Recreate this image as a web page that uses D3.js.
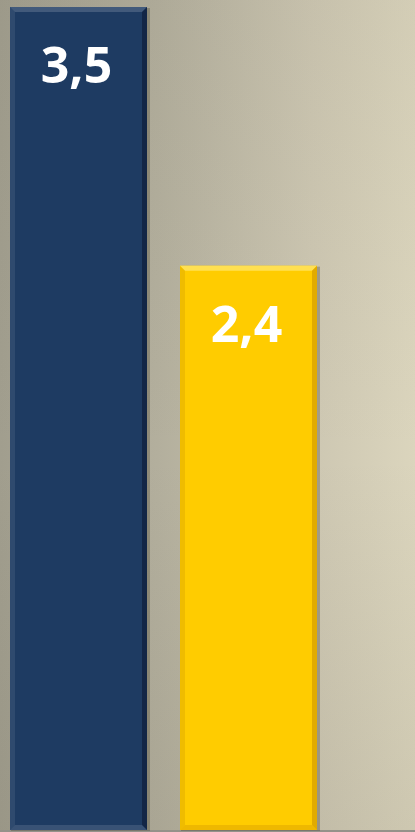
<!DOCTYPE html>
<html><head><meta charset="utf-8">
<script src="https://cdn.jsdelivr.net/npm/d3@7"></script>
<style>html,body{margin:0;padding:0;overflow:hidden;}svg{display:block;}</style>
</head><body>
<script>
const categories = ["A", "B"];
const values = [3.5, 2.4];
const labels = ["3,5", "2,4"];
const colors = ["#1e3b62", "#ffcc00"];

const W = 415, H = 832;
const svg = d3.select("body").append("svg").attr("width", W).attr("height", H);
const defs = svg.append("defs");
const lg = defs.append("linearGradient").attr("id","bgx").attr("x1",0).attr("x2",1).attr("y1",0).attr("y2",0);
[["0%","#a19e8e"],["38%","#b3af9d"],["75%","#cdc7b2"],["100%","#dbd5bd"]].forEach(s =>
  lg.append("stop").attr("offset",s[0]).attr("stop-color",s[1]));
const vg = defs.append("linearGradient").attr("id","bgy").attr("x1",0).attr("x2",0).attr("y1",0).attr("y2",1);
[["0%","rgba(90,85,70,0.06)"],["55%","rgba(90,85,70,0)"],["100%","rgba(90,85,70,0.10)"]].forEach(s =>
  vg.append("stop").attr("offset",s[0]).attr("stop-color",s[1]));
svg.append("rect").attr("width",W).attr("height",H).attr("fill","url(#bgx)");
svg.append("rect").attr("width",W).attr("height",H).attr("fill","url(#bgy)");

const x = d3.scaleBand().domain(categories).range([10, 317]).paddingInner(33/170).paddingOuter(0);
const y = d3.scaleLinear().domain([0, 3.5]).range([830, 7]);

svg.append("rect").attr("x",0).attr("y",y(0)).attr("width",W).attr("height",H-y(0)).attr("fill","#95928a");

const g = svg.append("g");
const bars = g.selectAll("g.bar").data(categories).join("g").attr("class","bar");
const bev = 5;
bars.each(function(c, i) {
  const s = d3.select(this);
  const x0 = x(c), x1 = x(c) + x.bandwidth(), y0 = y(values[i]), y1 = y(0);
  s.append("rect").attr("x", x0+1).attr("y", y0+1).attr("width", x.bandwidth()+2).attr("height", y1-y0)
    .attr("fill", "rgba(60,55,40,0.30)");
  s.append("rect").attr("x", x0).attr("y", y0).attr("width", x.bandwidth()).attr("height", y1-y0)
    .attr("fill", colors[i]);
  const poly = (pts, fill) => s.append("polygon").attr("points", pts.map(p => p.join(",")).join(" ")).attr("fill", fill);
  poly([[x0,y0],[x1,y0],[x1-bev,y0+bev],[x0+bev,y0+bev]], i===0 ? "rgba(255,255,255,0.16)" : "rgba(255,240,150,0.55)");
  poly([[x0,y0],[x0+bev,y0+bev],[x0+bev,y1-bev],[x0,y1]], i===0 ? "rgba(255,255,255,0.08)" : "rgba(190,140,0,0.25)");
  poly([[x1,y0],[x1,y1],[x1-bev,y1-bev],[x1-bev,y0+bev]], i===0 ? "rgba(0,0,20,0.35)" : "rgba(170,110,0,0.35)");
  poly([[x0,y1],[x1,y1],[x1-bev,y1-bev],[x0+bev,y1-bev]], i===0 ? "rgba(255,255,255,0.12)" : "rgba(200,140,0,0.30)");
  s.append("text").attr("x", x0 + x.bandwidth()/2 - 2).attr("y", y0 + 76)
    .attr("text-anchor","middle").attr("fill","#ffffff")
    .style("font-family","'Open Sans', sans-serif").style("font-weight","bold").style("font-size","50px")
    .text(labels[i]);
});
</script>
</body></html>
